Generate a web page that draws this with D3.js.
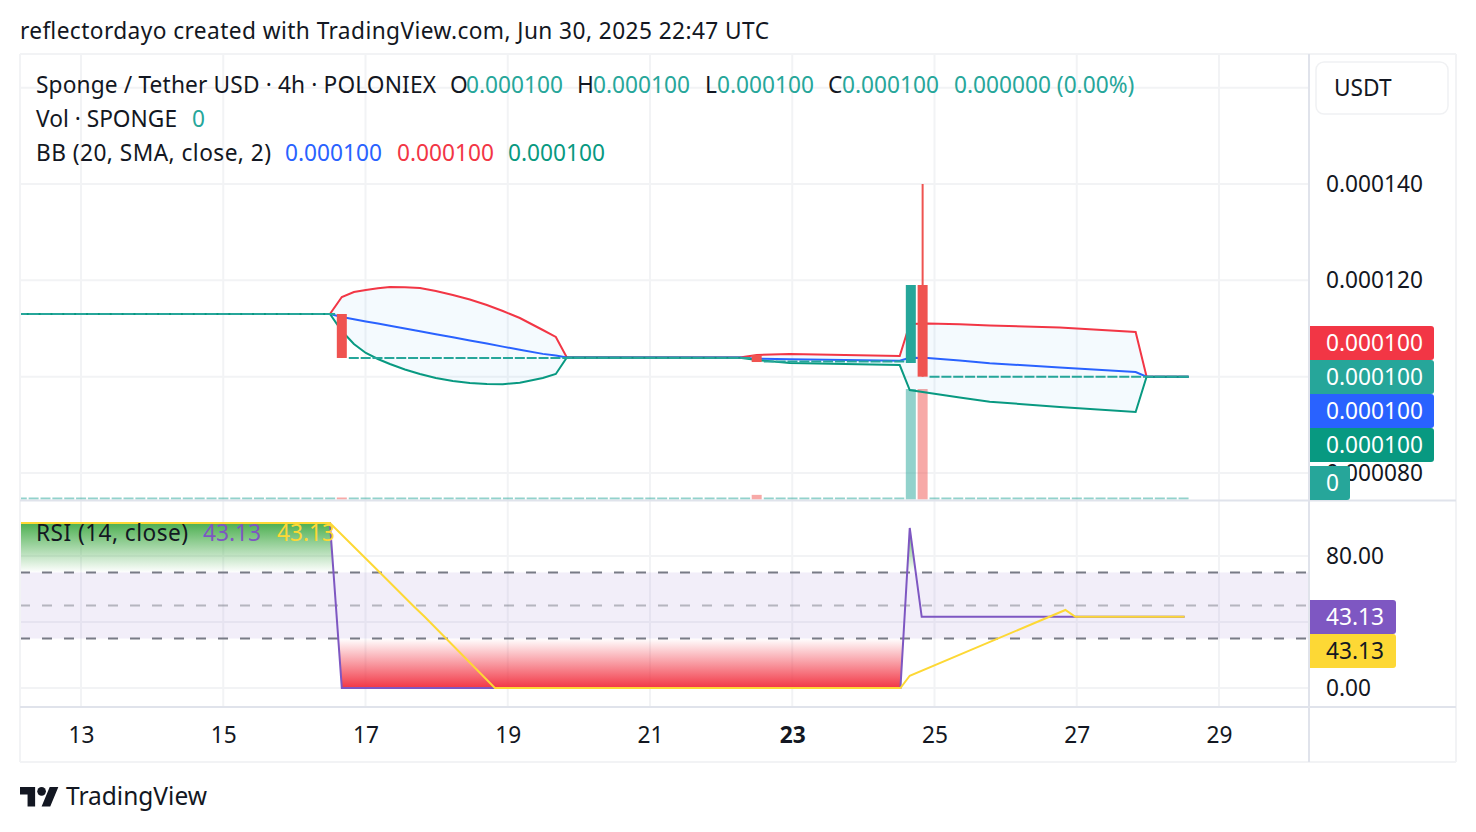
<!DOCTYPE html>
<html>
<head>
<meta charset="utf-8">
<script src="https://cdn.jsdelivr.net/npm/d3@7"></script>
<style>
  html, body { margin: 0; padding: 0; background: #fff; }
  text { font-family: "Noto Sans", sans-serif; font-size: 22.7px; fill: #131722; }
</style>
</head>
<body>
<div id="chart"></div>
<script>
// Data //
var dayTicks = [13, 15, 17, 19, 21, 23, 25, 27, 29];
var priceGrid = [0.00016, 0.00014, 0.00012, 0.0001, 0.00008];
var priceTicks = [0.00014, 0.00012, 0.00008];
var rsiGrid = [80, 40, 0];
var rsiTicks = [80, 0];

var candleDays = [16.667, 22.5, 24.667, 24.833];
var candleOpen = [0.00011301, 0.0001045, 0.00010284, 0.00011903];
var candleHigh = [0.00011301, 0.0001045, 0.00011903, 0.00014];
var candleLow = [0.00010388, 0.00010304, 0.00010284, 0.0001];
var candleClose = [0.00010388, 0.00010304, 0.00011903, 0.0001];
var candleVolume = [1.8, 4.2, 100, 100];

// runs of flat candles with no trading
var flatStart = [12.097, 16.765, 22.6, 24.93];
var flatEnd = [16.6, 22.43, 24.58, 28.573];
var flatPrice = [0.00011301, 0.00010388, 0.00010315, 0.0001];
var flatVolume = 1;

var bbDays = [12.143, 16.5, 16.667, 16.837, 17.005, 17.174, 17.343, 17.554, 17.765, 17.989, 18.228, 18.467, 18.706, 18.931, 19.17, 19.493, 19.676, 19.831, 22.262, 22.501, 22.965, 24.511, 24.652, 24.904, 25.354, 25.776, 26.76, 27.828, 27.982, 28.573];
var bbUpper = [0.00011301, 0.00011301, 0.00011654, 0.00011758, 0.00011799, 0.00011835, 0.00011862, 0.00011857, 0.00011841, 0.00011779, 0.00011696, 0.00011602, 0.00011488, 0.00011363, 0.00011218, 0.00010969, 0.00010824, 0.00010398, 0.00010398, 0.0001045, 0.00010471, 0.00010429, 0.00011093, 0.00011104, 0.00011087, 0.00011062, 0.00011021, 0.00010927, 0.0001, 0.0001];
var bbBasis = [0.00011301, 0.00011301, 0.00011239, 0.00011193, 0.00011147, 0.00011102, 0.00011056, 0.00010998, 0.00010942, 0.0001088, 0.00010817, 0.00010751, 0.00010687, 0.00010624, 0.0001056, 0.00010473, 0.00010439, 0.00010398, 0.00010398, 0.00010373, 0.00010363, 0.00010332, 0.00010394, 0.00010388, 0.00010336, 0.00010278, 0.0001019, 0.00010097, 0.0001, 0.0001];
var bbLower = [0.00011301, 0.00011301, 0.00010948, 0.00010678, 0.00010491, 0.00010367, 0.00010263, 0.00010149, 0.00010055, 0.00009972, 0.0000991, 0.00009869, 0.00009848, 0.00009842, 0.00009875, 0.00009972, 0.00010055, 0.00010398, 0.00010394, 0.00010346, 0.00010284, 0.00010242, 0.00009723, 0.00009667, 0.00009567, 0.0000948, 0.0000937, 0.00009266, 0.0001, 0.0001];

var rsiDays = [12.143, 16.5, 16.667, 24.521, 24.652, 24.82, 28.516];
var rsiValues = [100, 100, 0, 0, 97, 43.13, 43.13];
var rsiMaDays = [12.143, 16.5, 17.202, 17.666, 17.835, 18.819, 24.521, 24.652, 26.84, 26.98, 28.516];
var rsiMaValues = [100, 100, 70, 50, 43, 0, 0, 7.45, 47.3, 43.13, 43.13];

var priceLabels = ["0.000100", "0.000100", "0.000100", "0.000100"];
var priceLabelColors = ["#f23645", "#26a69a", "#2962ff", "#089981"];

// Layout //
var svgWidth = 1476;
var svgHeight = 832;
var left = 20;
var right = 1309;
var outerRight = 1456;
var top0 = 54;
var paneBottom = 500;
var rsiBottom = 707;
var outerBottom = 762;
var barWidth = 10;

var red = "#ef5350";
var teal = "#26a69a";
var gridColor = "#f2f3f5";
var lineColor = "#e0e3eb";

var svg = d3.select("#chart")
  .append("svg")
  .attr("width", svgWidth)
  .attr("height", svgHeight)
  .style("display", "block");

// Scale Functions //
var xScale = d3.scaleLinear().domain([13, 29]).range([81, 1219]);
var yPrice = d3.scaleLinear().domain([0.00014, 0.00008]).range([184, 473]);
var yVolume = d3.scaleLinear().domain([0, 100]).range([499.5, 389]);
var yRsi = d3.scaleLinear().domain([0, 100]).range([688, 523]);

var defs = svg.append("defs");

defs.append("clipPath").attr("id", "plotClip")
  .append("rect")
  .attr("x", left).attr("y", top0)
  .attr("width", right - left).attr("height", paneBottom - top0);

defs.append("clipPath").attr("id", "overClip")
  .append("rect")
  .attr("x", left).attr("y", yRsi(100))
  .attr("width", right - left).attr("height", yRsi(70) - yRsi(100));

defs.append("clipPath").attr("id", "underClip")
  .append("rect")
  .attr("x", left).attr("y", yRsi(30))
  .attr("width", right - left).attr("height", yRsi(0) - yRsi(30));

var greenGrad = defs.append("linearGradient").attr("id", "greenGrad")
  .attr("gradientUnits", "userSpaceOnUse")
  .attr("x1", 0).attr("x2", 0).attr("y1", yRsi(100)).attr("y2", yRsi(70));
greenGrad.append("stop").attr("offset", 0).attr("stop-color", "#4caf50");
greenGrad.append("stop").attr("offset", 1).attr("stop-color", "#4caf50").attr("stop-opacity", 0);

var redGrad = defs.append("linearGradient").attr("id", "redGrad")
  .attr("gradientUnits", "userSpaceOnUse")
  .attr("x1", 0).attr("x2", 0).attr("y1", yRsi(30)).attr("y2", yRsi(0));
redGrad.append("stop").attr("offset", 0).attr("stop-color", "#f23645").attr("stop-opacity", 0);
redGrad.append("stop").attr("offset", 1).attr("stop-color", "#f23645");

// Grid //
svg.selectAll(".vgrid")
  .data(dayTicks)
  .enter()
  .append("line")
  .attr("x1", d => xScale(d)).attr("x2", d => xScale(d))
  .attr("y1", top0).attr("y2", rsiBottom)
  .attr("stroke", gridColor).attr("stroke-width", 2);

svg.selectAll(".pgrid")
  .data(priceGrid)
  .enter()
  .append("line")
  .attr("x1", left).attr("x2", right)
  .attr("y1", d => yPrice(d)).attr("y2", d => yPrice(d))
  .attr("stroke", gridColor).attr("stroke-width", 2);

svg.selectAll(".rgrid")
  .data(rsiGrid)
  .enter()
  .append("line")
  .attr("x1", left).attr("x2", right)
  .attr("y1", d => yRsi(d)).attr("y2", d => yRsi(d))
  .attr("stroke", gridColor).attr("stroke-width", 2);

// Price pane //
var pricePane = svg.append("g").attr("clip-path", "url(#plotClip)");

// flat volume, then real volume bars
flatStart.forEach(function(d, i) {
  pricePane.append("line")
    .attr("x1", xScale(d)).attr("x2", xScale(flatEnd[i]))
    .attr("y1", yVolume(flatVolume)).attr("y2", yVolume(flatVolume))
    .attr("stroke", teal).attr("stroke-opacity", 0.5)
    .attr("stroke-width", 2)
    .attr("stroke-dasharray", "10,1.86");
});

pricePane.selectAll(".vol")
  .data(candleDays)
  .enter()
  .append("rect")
  .attr("x", d => xScale(d) - barWidth / 2)
  .attr("width", barWidth)
  .attr("y", (d, i) => yVolume(candleVolume[i]))
  .attr("height", (d, i) => yVolume(0) - yVolume(candleVolume[i]))
  .attr("fill", (d, i) => candleClose[i] >= candleOpen[i] ? teal : red)
  .attr("fill-opacity", 0.5);

// Bollinger bands
var bbIndex = d3.range(bbDays.length);

pricePane.append("path")
  .datum(bbIndex)
  .attr("fill", "#2196f3")
  .attr("fill-opacity", 0.05)
  .attr("d", d3.area()
    .x(i => xScale(bbDays[i]))
    .y0(i => yPrice(bbLower[i]))
    .y1(i => yPrice(bbUpper[i])));

var bbLines = [
  { values: bbUpper, color: "#f23645" },
  { values: bbBasis, color: "#2962ff" },
  { values: bbLower, color: "#089981" }
];

bbLines.forEach(function(s) {
  pricePane.append("path")
    .datum(bbIndex)
    .attr("fill", "none")
    .attr("stroke", s.color)
    .attr("stroke-width", 2)
    .attr("d", d3.line()
      .x(i => xScale(bbDays[i]))
      .y(i => yPrice(s.values[i])));
});

// flat candles
flatStart.forEach(function(d, i) {
  pricePane.append("line")
    .attr("x1", xScale(d)).attr("x2", xScale(flatEnd[i]))
    .attr("y1", yPrice(flatPrice[i])).attr("y2", yPrice(flatPrice[i]))
    .attr("stroke", teal)
    .attr("stroke-width", 2)
    .attr("stroke-dasharray", "10,1.86");
});

// candles
pricePane.selectAll(".wick")
  .data(candleDays)
  .enter()
  .append("line")
  .attr("x1", d => xScale(d)).attr("x2", d => xScale(d))
  .attr("y1", (d, i) => yPrice(candleHigh[i]))
  .attr("y2", (d, i) => yPrice(candleLow[i]))
  .attr("stroke", (d, i) => candleClose[i] >= candleOpen[i] ? teal : red)
  .attr("stroke-width", 2);

pricePane.selectAll(".body")
  .data(candleDays)
  .enter()
  .append("rect")
  .attr("x", d => xScale(d) - barWidth / 2)
  .attr("width", barWidth)
  .attr("y", (d, i) => yPrice(Math.max(candleOpen[i], candleClose[i])))
  .attr("height", (d, i) => Math.abs(yPrice(candleOpen[i]) - yPrice(candleClose[i])))
  .attr("fill", (d, i) => candleClose[i] >= candleOpen[i] ? teal : red);

// RSI pane //
svg.append("rect")
  .attr("x", left).attr("width", right - left)
  .attr("y", yRsi(70)).attr("height", yRsi(30) - yRsi(70))
  .attr("fill", "#7e57c2").attr("fill-opacity", 0.1);

var rsiIndex = d3.range(rsiDays.length);

svg.append("path")
  .datum(rsiIndex)
  .attr("clip-path", "url(#overClip)")
  .attr("fill", "url(#greenGrad)")
  .attr("d", d3.area()
    .x(i => xScale(rsiDays[i]))
    .y0(yRsi(70))
    .y1(i => yRsi(rsiValues[i])));

svg.append("path")
  .datum(rsiIndex)
  .attr("clip-path", "url(#underClip)")
  .attr("fill", "url(#redGrad)")
  .attr("d", d3.area()
    .x(i => xScale(rsiDays[i]))
    .y0(yRsi(30))
    .y1(i => yRsi(rsiValues[i])));

[70, 50, 30].forEach(function(level) {
  svg.append("line")
    .attr("x1", left).attr("x2", right)
    .attr("y1", yRsi(level)).attr("y2", yRsi(level))
    .attr("stroke", "#787b86")
    .attr("stroke-opacity", level === 50 ? 0.5 : 1)
    .attr("stroke-width", 2)
    .attr("stroke-dasharray", "10,12");
});

svg.append("path")
  .datum(rsiIndex)
  .attr("fill", "none")
  .attr("stroke", "#7e57c2")
  .attr("stroke-width", 2)
  .attr("d", d3.line()
    .x(i => xScale(rsiDays[i]))
    .y(i => yRsi(rsiValues[i])));

svg.append("path")
  .datum(d3.range(rsiMaDays.length))
  .attr("fill", "none")
  .attr("stroke", "#fdd835")
  .attr("stroke-width", 2)
  .attr("d", d3.line()
    .x(i => xScale(rsiMaDays[i]))
    .y(i => yRsi(rsiMaValues[i])));

// Frame //
function hline(y, x1, x2, color) {
  svg.append("line").attr("x1", x1).attr("x2", x2).attr("y1", y).attr("y2", y)
    .attr("stroke", color).attr("stroke-width", 2);
}
function vline(x, y1, y2, color) {
  svg.append("line").attr("x1", x).attr("x2", x).attr("y1", y1).attr("y2", y2)
    .attr("stroke", color).attr("stroke-width", 2);
}
hline(top0, left, outerRight, gridColor);
hline(outerBottom, left, outerRight, gridColor);
vline(left, top0, outerBottom, gridColor);
vline(outerRight, top0, outerBottom, gridColor);
hline(paneBottom + 0.5, left, outerRight, lineColor);
hline(rsiBottom, left, outerRight, lineColor);
vline(right, top0, outerBottom, lineColor);

// Axes //
var timeAxis = svg.append("g")
  .attr("transform", `translate(0, ${rsiBottom})`)
  .call(d3.axisBottom(xScale).tickValues(dayTicks).tickSize(0).tickPadding(20).tickFormat(d => d));
timeAxis.select(".domain").remove();
timeAxis.selectAll("text")
  .style("font-weight", d => d === 23 ? "bold" : "normal");

var priceAxis = svg.append("g")
  .attr("transform", `translate(${right}, 0)`)
  .call(d3.axisRight(yPrice).tickValues(priceTicks).tickSize(0).tickPadding(17).tickFormat(d3.format(".6f")));
priceAxis.select(".domain").remove();

var rsiAxis = svg.append("g")
  .attr("transform", `translate(${right}, 0)`)
  .call(d3.axisRight(yRsi).tickValues(rsiTicks).tickSize(0).tickPadding(17).tickFormat(d3.format(".2f")));
rsiAxis.select(".domain").remove();

[timeAxis, priceAxis, rsiAxis].forEach(function(a) {
  a.attr("font-family", null).attr("font-size", null);
});

// Currency button //
svg.append("rect")
  .attr("x", 1316).attr("y", 62).attr("width", 132).attr("height", 52).attr("rx", 8)
  .attr("fill", "#fff").attr("stroke", "#f0f1f3").attr("stroke-width", 1.5);
svg.append("text").attr("x", 1334).attr("y", 96).text("USDT");

// Price labels //
function axisLabel(y, width, color, text, textColor) {
  svg.append("path")
    .attr("d", `M1310,${y}h${width - 3}a3,3 0 0 1 3,3v28a3,3 0 0 1 -3,3h-${width - 3}z`)
    .attr("fill", color);
  svg.append("text").attr("x", 1326).attr("y", y + 25)
    .style("fill", textColor).text(text);
}
priceLabels.forEach(function(d, i) {
  axisLabel(326 + i * 34, 124, priceLabelColors[i], d, "#fff");
});
axisLabel(466, 40, teal, "0", "#fff");
axisLabel(600, 86, "#7e57c2", "43.13", "#fff");
axisLabel(634, 86, "#fdd835", "43.13", "#131722");

// Legends //
function legend(x, y, text, color, length) {
  var t = svg.append("text").attr("x", x).attr("y", y)
    .style("fill", color || "#131722").text(text);
  if (length) t.attr("textLength", length).attr("lengthAdjust", "spacing");
}
legend(20, 39, "reflectordayo created with TradingView.com, Jun 30, 2025 22:47 UTC", null, 749);
legend(36, 93, "Sponge / Tether USD · 4h · POLONIEX", null, 400);
legend(450, 93, "O");
legend(466, 93, "0.000100", teal);
legend(577, 93, "H");
legend(593, 93, "0.000100", teal);
legend(705, 93, "L");
legend(717, 93, "0.000100", teal);
legend(828, 93, "C");
legend(842, 93, "0.000100", teal);
legend(954, 93, "0.000000 (0.00%)", teal);
legend(36, 127, "Vol · SPONGE", null, 141);
legend(192, 127, "0", teal);
legend(36, 161, "BB (20, SMA, close, 2)", null, 235);
legend(285, 161, "0.000100", "#2962ff");
legend(397, 161, "0.000100", "#f23645");
legend(508, 161, "0.000100", "#089981");
legend(36, 541, "RSI (14, close)", null, 152);
legend(203, 541, "43.13", "#7e57c2");
legend(277, 541, "43.13", "#fdd835");

// TradingView logo //
var logo = svg.append("g").attr("transform", "translate(20, 782.7) scale(1.08)").attr("fill", "#131722");
logo.append("path").attr("d", "M14 22H7V11H0V4h14v18zM28 22h-8l7.5-18h8L28 22z");
logo.append("circle").attr("cx", 20).attr("cy", 8).attr("r", 4);
svg.append("text").attr("x", 66).attr("y", 805).style("font-size", "24.5px").text("TradingView");
</script>
</body>
</html>
